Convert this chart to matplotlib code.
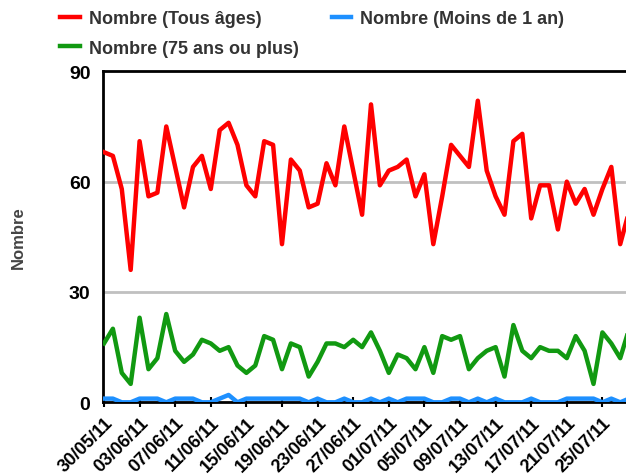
import matplotlib
matplotlib.use('Agg')
import matplotlib.pyplot as plt
import matplotlib.dates as mdates
import pandas as pd

plt.rcParams['font.family'] = ['Liberation Sans', 'DejaVu Sans']
plt.rcParams['font.weight'] = 'bold'

# daily counts from 30/05/11
dates = pd.date_range('2011-05-30', periods=60, freq='D')
tous_ages = [68, 67, 58, 36, 71, 56, 57, 75, 64, 53,
             64, 67, 58, 74, 76, 70, 59, 56, 71, 70,
             43, 66, 63, 53, 54, 65, 59, 75, 63, 51,
             81, 59, 63, 64, 66, 56, 62, 43, 56, 70,
             67, 64, 82, 63, 56, 51, 71, 73, 50, 59,
             59, 47, 60, 54, 58, 51, 58, 64, 43, 52]
plus_75 = [16, 20, 8, 5, 23, 9, 12, 24, 14, 11,
           13, 17, 16, 14, 15, 10, 8, 10, 18, 17,
           9, 16, 15, 7, 11, 16, 16, 15, 17, 15,
           19, 14, 8, 13, 12, 9, 15, 8, 18, 17,
           18, 9, 12, 14, 15, 7, 21, 14, 12, 15,
           14, 14, 12, 18, 14, 5, 19, 16, 12, 20]
moins_1an = [1, 1, 0, 0, 1, 1, 1, 0, 1, 1,
             1, 0, 0, 1, 2, 0, 1, 1, 1, 1,
             1, 1, 1, 0, 1, 0, 0, 1, 0, 0,
             1, 0, 1, 0, 1, 1, 1, 0, 0, 1,
             1, 0, 1, 0, 1, 0, 0, 0, 1, 0,
             0, 0, 1, 1, 1, 1, 0, 1, 0, 1]
tick_dates = dates[::4]

RED = '#ff0000'; GREEN = '#119911'; BLUE = '#1e90ff'

fig = plt.figure(figsize=(6.26, 4.77), dpi=100)
ax = fig.add_axes([103/626, 1 - 403.3/477, 1 - 103/626, 331/477])

l1, = ax.plot(dates, tous_ages, color=RED, lw=3.2, label='Nombre (Tous âges)', zorder=3)
l3, = ax.plot(dates, moins_1an, color=BLUE, lw=3.2, label='Nombre (Moins de 1 an)', zorder=3)
l2, = ax.plot(dates, plus_75, color=GREEN, lw=3.2, label='Nombre (75 ans ou plus)', zorder=3)

day = pd.Timedelta(days=1)
ax.set_xlim(dates[0] - 0.11 * day, dates[0] + 58.65 * day)
ax.set_ylim(0, 90)
ax.set_yticks([0, 30, 60, 90])
for v in [30, 60]:
    ax.axhline(v, color='#c0c0c0', lw=2, zorder=1)

ax.set_xticks(tick_dates)
ax.xaxis.set_major_formatter(mdates.DateFormatter('%d/%m/%y'))
for lab in ax.get_xticklabels():
    lab.set_rotation(45)
    lab.set_ha('right')
    lab.set_rotation_mode('anchor')
    lab.set_fontsize(13)
    lab.set_fontweight('bold')
ax.tick_params(axis='x', direction='inout', length=7, width=1.5, pad=5)
ax.tick_params(axis='y', length=0, labelsize=14, pad=9)
for lab in ax.get_yticklabels():
    lab.set_fontweight('bold')

for s in ['left', 'bottom', 'top']:
    ax.spines[s].set_linewidth(2)
    ax.spines[s].set_color('black')
ax.spines['right'].set_visible(False)

ax.set_ylabel('Nombre', fontsize=12, fontweight='bold', color='#444444', labelpad=31)

fig.legend(handles=[l1, l2, l3], loc='upper left', bbox_to_anchor=(44/626, 1.011),
           ncol=2, frameon=False, fontsize=13, handlelength=1.1, handletextpad=0.5,
           columnspacing=1.8, labelspacing=0.7, labelcolor='#333333')

fig.savefig('out.png', dpi=100)
